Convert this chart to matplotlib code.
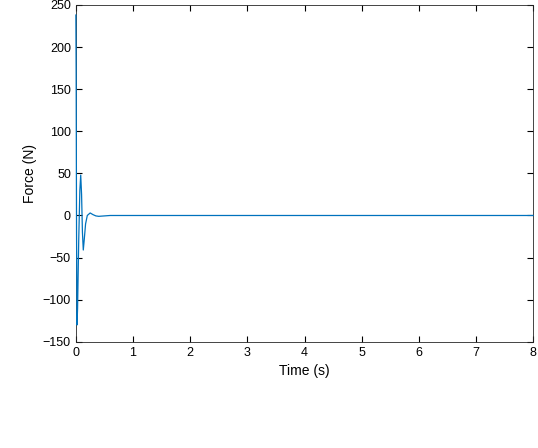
import matplotlib
matplotlib.use("Agg")
import matplotlib.pyplot as plt

t = [0.0, 0.005, 0.012, 0.02, 0.03, 0.05, 0.07, 0.085, 0.1, 0.115, 0.13, 0.145, 0.17, 0.2, 0.25, 0.3, 0.35, 0.4, 0.5, 0.6, 0.7, 1.0, 8.0]
force = [238, 170, -20, -130, -110, -30, 30, 48, 25, -20, -41, -30, -10, 0, 3, 1, -0.5, -1, -0.5, 0, 0, 0, 0]

plt.rcParams['font.family'] = ['Liberation Sans', 'DejaVu Sans']
fig = plt.figure(figsize=(5.38, 4.48), dpi=100)
ax = fig.add_axes([0.141, 0.237, 0.85, 0.752])
ax.plot(t, force, color='#0072BD', linewidth=0.9, zorder=5, clip_on=False)
ax.set_xlim(0, 8)
ax.set_ylim(-150, 250)
ax.set_xticks(range(0, 9))
ax.set_yticks(range(-150, 251, 50))
ax.set_xlabel('Time (s)', fontsize=10)
ax.set_ylabel('Force (N)', fontsize=10)
ax.tick_params(direction='in', labelsize=9, top=True, right=True, length=4)
for s in ax.spines.values():
    s.set_color('#262626')
    s.set_linewidth(0.6)
fig.savefig('out.png', dpi=100)
